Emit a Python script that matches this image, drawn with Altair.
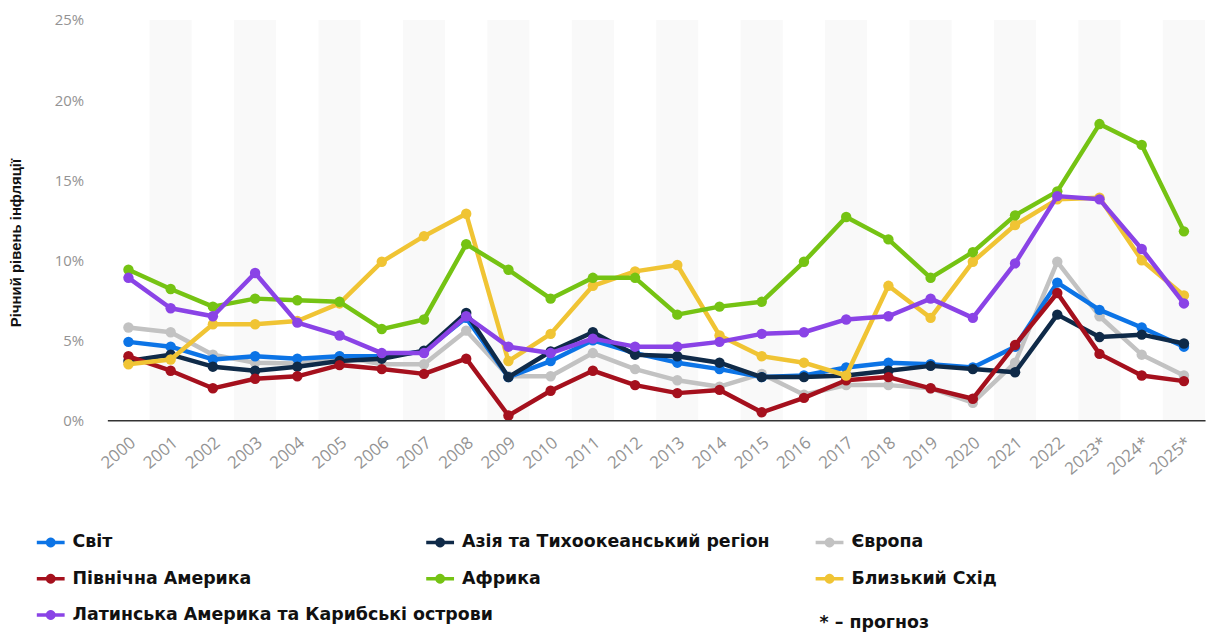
import altair as alt
import pandas as pd

years = ["2000", "2001", "2002", "2003", "2004", "2005", "2006", "2007", "2008",
         "2009", "2010", "2011", "2012", "2013", "2014", "2015", "2016", "2017",
         "2018", "2019", "2020", "2021", "2022", "2023*", "2024*", "2025*"]

names = ["Світ", "Азія та Тихоокеанський регіон", "Європа",
         "Північна Америка", "Африка", "Близький Схід",
         "Латинська Америка та Карибські острови"]
colors = ["#0c74e6", "#0f2a48", "#c2c2c2", "#a5101d", "#75c313", "#f0c434", "#8a43e6"]

world = [4.9, 4.6, 3.8, 4.0, 3.85, 4.0, 4.0, 4.3, 6.4, 2.7, 3.7, 5.0, 4.2, 3.6, 3.2,
         2.7, 2.8, 3.3, 3.6, 3.5, 3.3, 4.6, 8.6, 6.9, 5.8, 4.6]
asia = [3.7, 4.1, 3.35, 3.1, 3.35, 3.7, 3.85, 4.35, 6.7, 2.7, 4.3, 5.5, 4.1, 4.0, 3.6,
        2.7, 2.7, 2.8, 3.1, 3.4, 3.2, 3.0, 6.6, 5.2, 5.35, 4.8]
europe = [5.8, 5.5, 4.1, 3.6, 3.55, 4.0, 3.5, 3.5, 5.6, 2.75, 2.75, 4.2, 3.2, 2.5, 2.1,
          2.9, 1.6, 2.2, 2.2, 2.0, 1.1, 3.6, 9.9, 6.5, 4.1, 2.8]
north_america = [4.0, 3.1, 2.0, 2.6, 2.75, 3.45, 3.2, 2.9, 3.85, 0.3, 1.85, 3.1, 2.2, 1.7, 1.9,
                 0.5, 1.4, 2.5, 2.7, 2.0, 1.35, 4.7, 7.95, 4.15, 2.8, 2.45]
africa = [9.4, 8.2, 7.1, 7.6, 7.5, 7.4, 5.7, 6.3, 11.0, 9.4, 7.6, 8.9, 8.9, 6.6, 7.1,
          7.4, 9.9, 12.7, 11.3, 8.9, 10.5, 12.8, 14.3, 18.5, 17.2, 11.8]
middle_east = [3.5, 3.8, 6.0, 6.0, 6.2, 7.3, 9.9, 11.5, 12.9, 3.7, 5.4, 8.4, 9.3, 9.7, 5.3,
               4.0, 3.6, 2.8, 8.4, 6.4, 9.9, 12.2, 13.8, 13.9, 10.0, 7.8]
latin_america = [8.9, 7.0, 6.5, 9.2, 6.1, 5.3, 4.2, 4.2, 6.5, 4.6, 4.2, 5.1, 4.6, 4.6, 4.9,
                 5.4, 5.5, 6.3, 6.5, 7.6, 6.4, 9.8, 14.0, 13.8, 10.7, 7.3]

series_values = [world, asia, europe, north_america, africa, middle_east, latin_america]
draw_order = [2, 0, 1, 3, 5, 4, 6]

y_title = "Річний рівень інфляції"
note = "* – прогноз"

W, H = 1105, 403

rows = []
for name, vals in zip(names, series_values):
    for yr, v in zip(years, vals):
        rows.append({"year": yr, "series": name, "value": v})
df = pd.DataFrame(rows)

bands = pd.DataFrame({"year": years, "shade": [i % 2 for i in range(len(years))]})

leg = pd.DataFrame({"series": names,
                    "col": [i % 3 for i in range(len(names))],
                    "row": [i // 3 for i in range(len(names))]})
note_df = pd.DataFrame({"label": [note], "col": [2], "row": [2]})

color_scale = alt.Scale(domain=names, range=colors)
x_enc = alt.X("year:N", sort=years, title=None,
              scale=alt.Scale(paddingInner=0, paddingOuter=0),
              axis=alt.Axis(labelAngle=-40, labelAlign="right", labelBaseline="top",
                            labelFont="Open Sans", labelFontSize=17, labelColor="#939393",
                            ticks=False, domain=True, domainColor="#333333", domainWidth=1.5,
                            labelPadding=14, grid=False))
y_scale = alt.Scale(domain=[0, 25], nice=False)

band_layer = alt.Chart(bands).mark_rect().encode(
    x=x_enc,
    y=alt.datum(25, scale=y_scale),
    y2=alt.datum(0),
    color=alt.condition("datum.shade == 1", alt.value("#f9f9f9"), alt.value("#ffffff")),
)

main_layers = [band_layer]
for idx in draw_order:
    nm = names[idx]
    base = alt.Chart(df).transform_filter(alt.datum.series == nm).encode(
        x=x_enc,
        y=alt.Y("value:Q", scale=y_scale, title=y_title,
                axis=alt.Axis(values=[0, 5, 10, 15, 20, 25], labelExpr="datum.value + '%'",
                              labelFont="Open Sans", labelFontSize=15, labelColor="#939393",
                              labelPadding=24, ticks=False, domain=False,
                              gridColor="#e3e3e3", gridWidth=1,
                              titleFont="Liberation Sans", titleFontSize=15,
                              titleFontWeight="bold", titleColor="#111111",
                              titleX=-84, titleY=224, titleAngle=270,
                              titleAlign="center", titleBaseline="bottom")),
        color=alt.Color("series:N", scale=color_scale, legend=None),
    )
    main_layers.append(base.mark_line(strokeWidth=4.5, strokeJoin="round"))
    main_layers.append(base.mark_point(filled=True, size=110, opacity=1))

main = alt.layer(*main_layers)

sym = "M-1,-0.13L-0.336,-0.13A0.36,0.36 0 0 1 0.336,-0.13L1,-0.13L1,0.13L0.336,0.13A0.36,0.36 0 0 1 -0.336,0.13L-1,0.13Z"
lx = alt.X("col:Q", scale=alt.Scale(domain=[0, 3], range=[-57, 1119]), axis=None)
ly = alt.Y("row:Q", scale=alt.Scale(domain=[0, 2], range=[526, 599]), axis=None)

leg_sym = alt.Chart(leg).mark_point(filled=True, shape=sym, size=784, opacity=1).encode(
    x=lx, y=ly, color=alt.Color("series:N", scale=color_scale, legend=None))
leg_txt = alt.Chart(leg).mark_text(align="left", baseline="middle", dx=22, font="DejaVu Sans",
                                   fontSize=17.5, fontWeight="bold", color="#111111").encode(
    x=lx, y=ly, text="series:N")
note_txt = alt.Chart(note_df).mark_text(align="left", baseline="middle", dx=-10, dy=8,
                                        font="DejaVu Sans", fontSize=17.5, fontWeight="bold",
                                        color="#111111").encode(x=lx, y=ly, text="label:N")
legend_layer = alt.layer(leg_sym, leg_txt, note_txt)

chart = alt.layer(main, legend_layer).resolve_scale(
    x="independent", y="independent"
).properties(
    width=W, height=H,
    autosize=alt.AutoSizeParams(type="none"),
    padding={"left": 100, "top": 10, "right": 8, "bottom": 211},
).configure_view(stroke=None)

chart.save("out.html", embed_options={"renderer": "svg", "actions": False})
